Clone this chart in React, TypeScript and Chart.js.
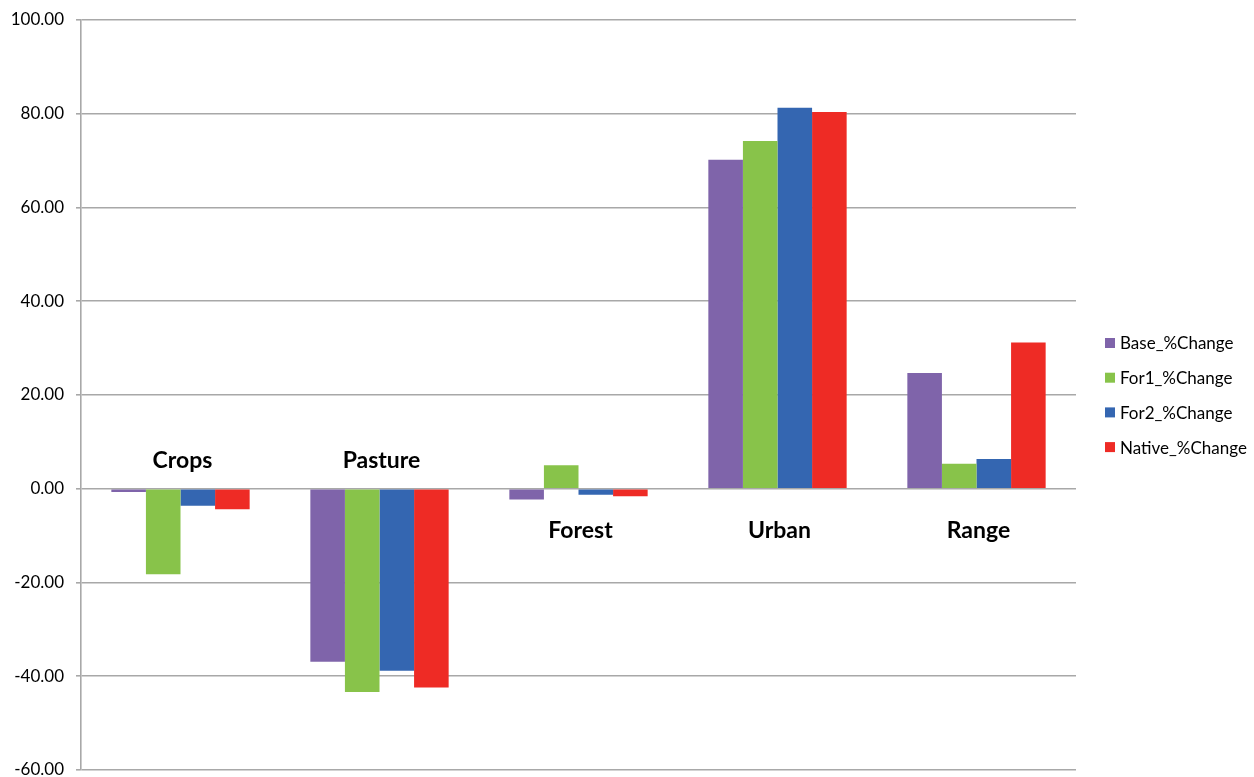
import React, { useEffect, useRef } from "react";
import { Chart, registerables } from "chart.js";

Chart.register(...registerables);

const categories = ["Crops", "Pasture", "Forest", "Urban", "Range"];
const seriesNames = ["Base_%Change", "For1_%Change", "For2_%Change", "Native_%Change"];
const baseValues = [-0.7, -36.9, -2.3, 70.2, 24.7];
const for1Values = [-18.25, -43.35, 5.0, 74.2, 5.35];
const for2Values = [-3.6, -38.8, -1.3, 81.3, 6.35];
const nativeValues = [-4.35, -42.4, -1.6, 80.4, 31.2];
const seriesColors = ["#7F64AA", "#88C34A", "#3466B1", "#EE2B25"];
const yMin = -60;
const yMax = 100;
const yStep = 20;

const FONT = "Lato, 'Open Sans', sans-serif";

const categoryLabelPlugin = {
  id: "categoryLabels",
  afterDatasetsDraw(chart: any) {
    const { ctx, scales } = chart;
    const xs = scales.x;
    const ys = scales.y;
    const zero = ys.getPixelForValue(0);
    ctx.save();
    ctx.font = `bold 23px ${FONT}`;
    ctx.fillStyle = "#000";
    ctx.textAlign = "center";
    ctx.textBaseline = "middle";
    categories.forEach((c, i) => {
      const vals = chart.data.datasets.map((d: any) => d.data[i]);
      const allNeg = vals.every((v: number) => v <= 0);
      const x = xs.getPixelForValue(i);
      const y = allNeg ? zero - 28 : zero + 42;
      ctx.fillText(c, x + 2, y);
    });
    ctx.restore();
  },
};

const legendPlugin = {
  id: "sideLegend",
  afterDraw(chart: any) {
    const { ctx } = chart;
    const x0 = chart.chartArea.right + 29;
    const y0 = 343;
    const step = 34.7;
    ctx.save();
    ctx.font = `17px ${FONT}`;
    ctx.textBaseline = "middle";
    ctx.textAlign = "left";
    chart.data.datasets.forEach((d: any, i: number) => {
      const y = y0 + i * step;
      ctx.fillStyle = d.backgroundColor;
      ctx.fillRect(x0, y - 5, 10, 10);
      ctx.fillStyle = "#000";
      ctx.fillText(d.label, x0 + 15, y + 1);
    });
    ctx.restore();
  },
};

export default function App() {
  const ref = useRef<HTMLCanvasElement>(null);
  useEffect(() => {
    const seriesValues = [baseValues, for1Values, for2Values, nativeValues];
    const chart = new Chart(ref.current!, {
      type: "bar",
      data: {
        labels: categories,
        datasets: seriesNames.map((name, i) => ({
          label: name,
          data: seriesValues[i],
          backgroundColor: seriesColors[i],
          borderWidth: 0,
          categoryPercentage: 0.695,
          barPercentage: 1.0,
        })),
      },
      options: {
        responsive: false,
        animation: false,
        layout: { padding: { left: 0, top: 20, right: 178, bottom: 7 } },
        plugins: {
          legend: { display: false },
          tooltip: { enabled: false },
        },
        scales: {
          x: {
            display: false,
          },
          y: {
            min: yMin,
            max: yMax,
            afterFit: (scale: any) => {
              scale.width = 81;
              scale.paddingTop = 0;
              scale.paddingBottom = 0;
            },
            ticks: {
              stepSize: yStep,
              padding: 12,
              color: "#000",
              font: { family: FONT, size: 17 },
              callback: (v: any) => Number(v).toFixed(2),
            },
            grid: {
              color: "#A8A8A8",
              lineWidth: 1.6,
              tickLength: 5,
              drawTicks: true,
            },
            border: { color: "#A8A8A8", width: 1.6 },
          },
        },
      },
      plugins: [categoryLabelPlugin, legendPlugin],
    });
    return () => chart.destroy();
  }, []);
  return (
    <div style={{ position: "absolute", left: 0, top: 0, width: 1254, height: 777, background: "#fff" }}>
      <canvas ref={ref} width={1254} height={777} style={{ display: "block" }} />
    </div>
  );
}
